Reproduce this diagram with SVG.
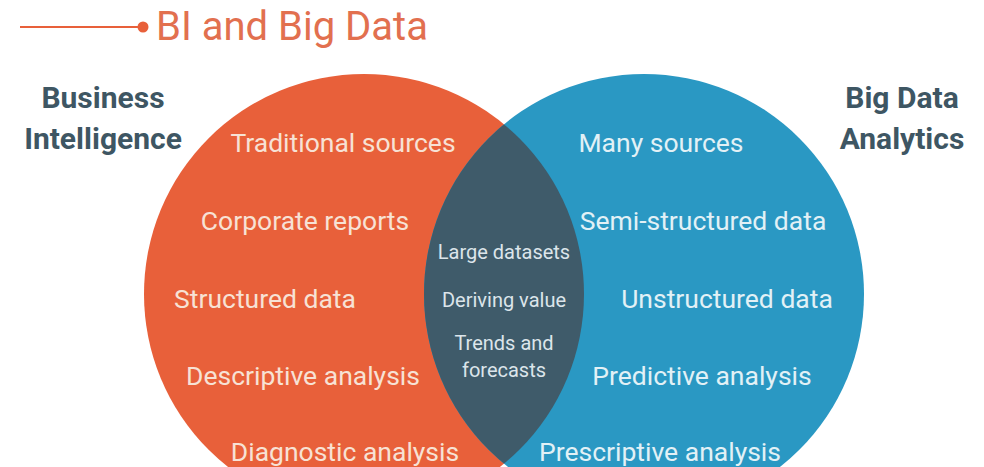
<svg xmlns="http://www.w3.org/2000/svg" width="984" height="467" viewBox="0 0 984 467">
<style>
.title{font-family:Roboto,"Liberation Sans",sans-serif;font-size:40px;fill:#E2704F}
.head{font-family:Roboto,"Liberation Sans",sans-serif;font-size:30px;font-weight:bold;fill:#3E5663;text-anchor:middle}
.ot{font-family:Roboto,"Liberation Sans",sans-serif;font-size:26.5px;fill:#F7E2D5;text-anchor:middle}
.bt{font-family:Roboto,"Liberation Sans",sans-serif;font-size:26.5px;fill:#E2F1F6;text-anchor:middle}
.lt{font-family:Roboto,"Liberation Sans",sans-serif;font-size:20px;fill:#DCE5EA;text-anchor:middle}
</style>
<defs>
<clipPath id="clipO"><circle cx="364" cy="294" r="220"/></clipPath>
</defs>
<rect width="984" height="467" fill="#FFFFFF"/>
<g id="title">
<line x1="20" y1="27" x2="138" y2="27" stroke="#E8603A" stroke-width="2"/>
<circle cx="143" cy="27" r="5.5" fill="#E8603A"/>
<text class="title" x="156" y="40">BI and Big Data</text>
</g>
<g id="bi-circle">
<circle cx="364" cy="294" r="220" fill="#E8603A"/>
</g>
<g id="bda-circle">
<circle cx="644" cy="294" r="220" fill="#2A98C3"/>
</g>
<g id="overlap">
<circle cx="644" cy="294" r="220" fill="#3F5B6A" clip-path="url(#clipO)"/>
</g>
<g id="bi-label">
<text class="head" x="103" y="108">Business</text>
<text class="head" x="103" y="149">Intelligence</text>
</g>
<g id="bda-label">
<text class="head" x="902" y="108">Big Data</text>
<text class="head" x="902" y="149">Analytics</text>
</g>
<g id="bi-items">
<text class="ot" x="343" y="152">Traditional sources</text>
<text class="ot" x="305" y="230">Corporate reports</text>
<text class="ot" x="265" y="308">Structured data</text>
<text class="ot" x="303" y="385">Descriptive analysis</text>
<text class="ot" x="345" y="461">Diagnostic analysis</text>
</g>
<g id="bda-items">
<text class="bt" x="661" y="152">Many sources</text>
<text class="bt" x="703" y="230">Semi-structured data</text>
<text class="bt" x="727" y="308">Unstructured data</text>
<text class="bt" x="702" y="385">Predictive analysis</text>
<text class="bt" x="660" y="461">Prescriptive analysis</text>
</g>
<g id="overlap-items">
<text class="lt" x="504" y="259">Large datasets</text>
<text class="lt" x="504" y="307">Deriving value</text>
<text class="lt" x="504" y="350">Trends and</text>
<text class="lt" x="504" y="377">forecasts</text>
</g>
</svg>
